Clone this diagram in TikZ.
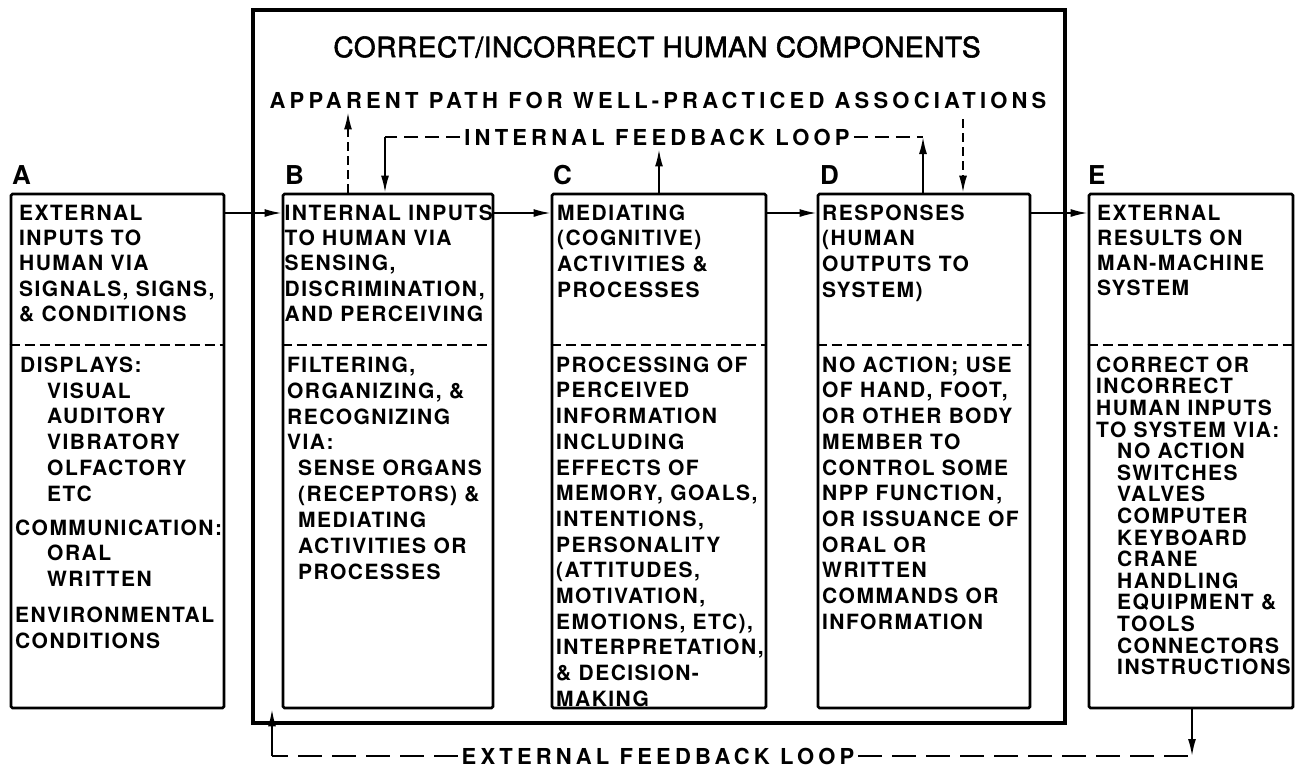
\documentclass[tikz,border=0pt]{standalone}
\usepackage{fontspec}
\setmainfont{TeX Gyre Heros}
\newfontfamily\bodyfont[LetterSpace=7]{TeX Gyre Heros}
\newfontfamily\headfont[LetterSpace=19]{TeX Gyre Heros}
\newfontfamily\titlefont[LetterSpace=2,FakeBold=2]{TeX Gyre Heros}
\usetikzlibrary{arrows.meta,calc}
\begin{document}
\begin{tikzpicture}[x=1pt,y=-1pt,
  box/.style={draw, line width=2.8pt, rounded corners=1.5pt, inner sep=0pt, minimum height=514pt},
  outerbox/.style={draw, line width=3.6pt, inner sep=0pt},
  body/.style={anchor=north west, inner sep=0pt, align=left, font=\bodyfont\bfseries\fontsize{21}{#1}\selectfont},
  lbl/.style={anchor=west, inner sep=0pt, font=\bfseries\fontsize{26}{26}\selectfont},
  head/.style={inner sep=0pt, font=\headfont\bfseries\fontsize{22}{22}\selectfont},
  arr/.style={line width=1.8pt, -{Latex[length=17pt,width=8pt]}},
  divider/.style={line width=2pt, dash pattern=on 10pt off 5pt},
  dint/.style={line width=1.8pt, dash pattern=on 14pt off 7pt},
  dext/.style={line width=1.8pt, dash pattern=on 24pt off 10pt},
  dvert/.style={line width=1.8pt, dash pattern=on 9pt off 5pt},
]
\useasboundingbox (0,0) rectangle (1296,769);
\fill[white] (0,0) rectangle (1296,769);

% outer frame
\node[outerbox, minimum width=812pt, minimum height=713pt] (O) at (659,366.5) {};

% main boxes
\node[box, minimum width=213pt] (A) at (117.5,451) {};
\node[box, minimum width=210pt] (B) at (388,451) {};
\node[box, minimum width=214pt] (C) at (659,451) {};
\node[box, minimum width=212pt] (D) at (924,451) {};
\node[box, minimum width=204pt] (E) at (1191,451) {};

\coordinate (dv) at (0,345);
\coordinate (ar) at (0,213);

% dividers
\foreach \b in {A,B,C,D,E}{
  \draw[divider] (\b.west |- dv) -- (\b.east |- dv);
}

% title and headings
\node[inner sep=0pt, font=\titlefont\fontsize{28}{28}\selectfont] (title) at (657,47) {CORRECT/INCORRECT HUMAN COMPONENTS};
\node[head] (app) at (658,100) {APPARENT PATH FOR WELL-PRACTICED ASSOCIATIONS};
\node[head] (ifb) at (657,137) {INTERNAL FEEDBACK LOOP};
\node[head] (efb) at (658,756) {EXTERNAL FEEDBACK LOOP};

% letters
\node[lbl] (lA) at (12,175) {A};
\node[lbl] (lB) at (285,175) {B};
\node[lbl] (lC) at (553,175) {C};
\node[lbl] (lD) at (820,175) {D};
\node[lbl] (lE) at (1088,175) {E};

% box texts
\node[body=25.4] (tA1) at (19,204.5) {EXTERNAL\\INPUTS TO\\HUMAN VIA\\SIGNALS, SIGNS,\\\&~CONDITIONS};
\node[body=25.8] (tA2) at (15,356.5) {\hspace*{5pt}DISPLAYS:\\\hspace*{32pt}VISUAL\\\hspace*{32pt}AUDITORY\\\hspace*{32pt}VIBRATORY\\\hspace*{32pt}OLFACTORY\\\hspace*{32pt}ETC\\[8pt]COMMUNICATION:\\\hspace*{32pt}ORAL\\\hspace*{32pt}WRITTEN\\[10pt]ENVIRONMENTAL\\CONDITIONS};

\node[body=25.3] (tB1) at (284.5,204.5) {INTERNAL INPUTS\\TO HUMAN VIA\\SENSING,\\DISCRIMINATION,\\AND PERCEIVING};
\node[body=25.9] (tB2) at (287,356.5) {FILTERING,\\ORGANIZING, \&\\RECOGNIZING\\VIA:\\\hspace*{11pt}SENSE ORGANS\\\hspace*{11pt}(RECEPTORS) \&\\\hspace*{11pt}MEDIATING\\\hspace*{11pt}ACTIVITIES OR\\\hspace*{11pt}PROCESSES};

\node[body=25.6] (tC1) at (557,204.5) {MEDIATING\\(COGNITIVE)\\ACTIVITIES \&\\PROCESSES};
\node[body=25.7] (tC2) at (556,356.5) {PROCESSING OF\\PERCEIVED\\INFORMATION\\INCLUDING\\EFFECTS OF\\MEMORY, GOALS,\\INTENTIONS,\\PERSONALITY\\(ATTITUDES,\\MOTIVATION,\\EMOTIONS, ETC),\\INTERPRETATION,\\\&~DECISION-\\MAKING};

\node[body=25.6] (tD1) at (822,204.5) {RESPONSES\\(HUMAN\\OUTPUTS TO\\SYSTEM)};
\node[body=25.7] (tD2) at (822,356.5) {NO ACTION; USE\\OF HAND, FOOT,\\OR OTHER BODY\\MEMBER TO\\CONTROL SOME\\NPP FUNCTION,\\OR ISSUANCE OF\\ORAL OR\\WRITTEN\\COMMANDS OR\\INFORMATION};

\node[body=25.2] (tE1) at (1097,204.5) {EXTERNAL\\RESULTS ON\\MAN-MACHINE\\SYSTEM};
\node[body=21.6] (tE2) at (1096,356.5) {CORRECT OR\\INCORRECT\\HUMAN INPUTS\\TO SYSTEM VIA:\\\hspace*{21pt}NO ACTION\\\hspace*{21pt}SWITCHES\\\hspace*{21pt}VALVES\\\hspace*{21pt}COMPUTER\\\hspace*{21pt}KEYBOARD\\\hspace*{21pt}CRANE\\\hspace*{21pt}HANDLING\\\hspace*{21pt}EQUIPMENT \&\\\hspace*{21pt}TOOLS\\\hspace*{21pt}CONNECTORS\\\hspace*{21pt}INSTRUCTIONS};

% forward arrows
\draw[arr] (A.east |- ar) -- (B.west |- ar);
\draw[arr] (B.east |- ar) -- (C.west |- ar);
\draw[arr] (C.east |- ar) -- (D.west |- ar);
\draw[arr] (D.east |- ar) -- (E.west |- ar);

% internal feedback loop
\coordinate (bin) at (385,137);
\coordinate (din) at (923,137);
\draw[dint, shorten <=4pt] (ifb.west) -- (bin);
\draw[arr] (bin) -- (bin |- B.north);
\draw[dint, shorten <=4pt] (ifb.east) -- (din);
\draw[arr] (din |- D.north) -- (din);
\draw[arr, shorten >=4pt] (C.north) -- (C.north |- ifb.south);

% apparent path
\coordinate (bap) at (348,0);
\coordinate (dap) at (963,0);
\draw[dvert, arr, shorten >=4pt] (bap |- B.north) -- (bap |- app.south);
\draw[dvert, arr, shorten <=11pt] (dap |- app.south) -- (dap |- D.north);

% external feedback loop
\coordinate (aex) at (272,756);
\coordinate (eex) at (1192,756);
\draw[dext, shorten <=4pt] (efb.west) -- (aex);
\draw[arr] (aex) -- (aex |- A.south);
\draw[dext, shorten <=4pt] (efb.east) -- (eex);
\draw[arr] (eex |- E.south) -- (eex);
\end{tikzpicture}
\end{document}
